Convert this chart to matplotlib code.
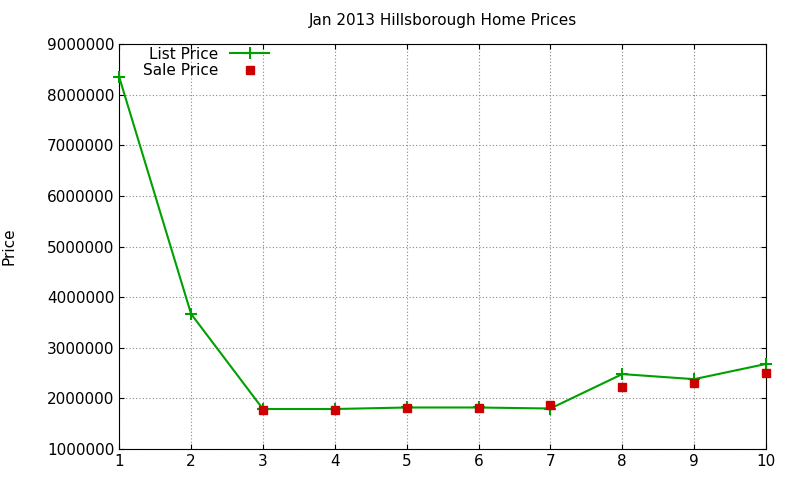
import matplotlib
matplotlib.use("Agg")
import matplotlib.pyplot as plt
import numpy as np

x = [1, 2, 3, 4, 5, 6, 7, 8, 9, 10]
list_price = [8350000, 3670000, 1790000, 1790000, 1820000, 1820000, 1800000, 2480000, 2380000, 2680000]
sale_price = [np.nan, np.nan, 1780000, 1780000, 1810000, 1810000, 1870000, 2220000, 2300000, 2500000]

fig = plt.figure(figsize=(8, 4.8), dpi=100)
ax = fig.add_axes([0.149, 0.0646, 0.8085, 0.8434])
ax.plot(x, list_price, color="#00a000", lw=1.5, marker="+", ms=8, mew=1.5, label="List Price", clip_on=False, zorder=3)
ax.plot(x, sale_price, ls="none", marker="s", color="#cc0000", ms=6, label="Sale Price", clip_on=False, zorder=4)
ax.set_xlim(1, 10)
ax.set_ylim(1000000, 9000000)
ax.set_xticks(x)
ax.set_yticks(range(1000000, 9000001, 1000000))
ax.ticklabel_format(style="plain", axis="y")
ax.grid(True, ls=(0, (1, 2)), color="#888888", lw=0.8)
ax.tick_params(direction="in", labelsize=11, top=True, right=True)
ax.set_ylabel("Price", fontsize=11, labelpad=22)
ax.set_title("Jan 2013 Hillsborough Home Prices", fontsize=11, pad=14)
ax.legend(loc="upper left", bbox_to_anchor=(0.02, 1.02), frameon=False, fontsize=11,
          markerfirst=False, handlelength=2.5, borderaxespad=0.3, labelspacing=0.1)
fig.savefig("out.png")
